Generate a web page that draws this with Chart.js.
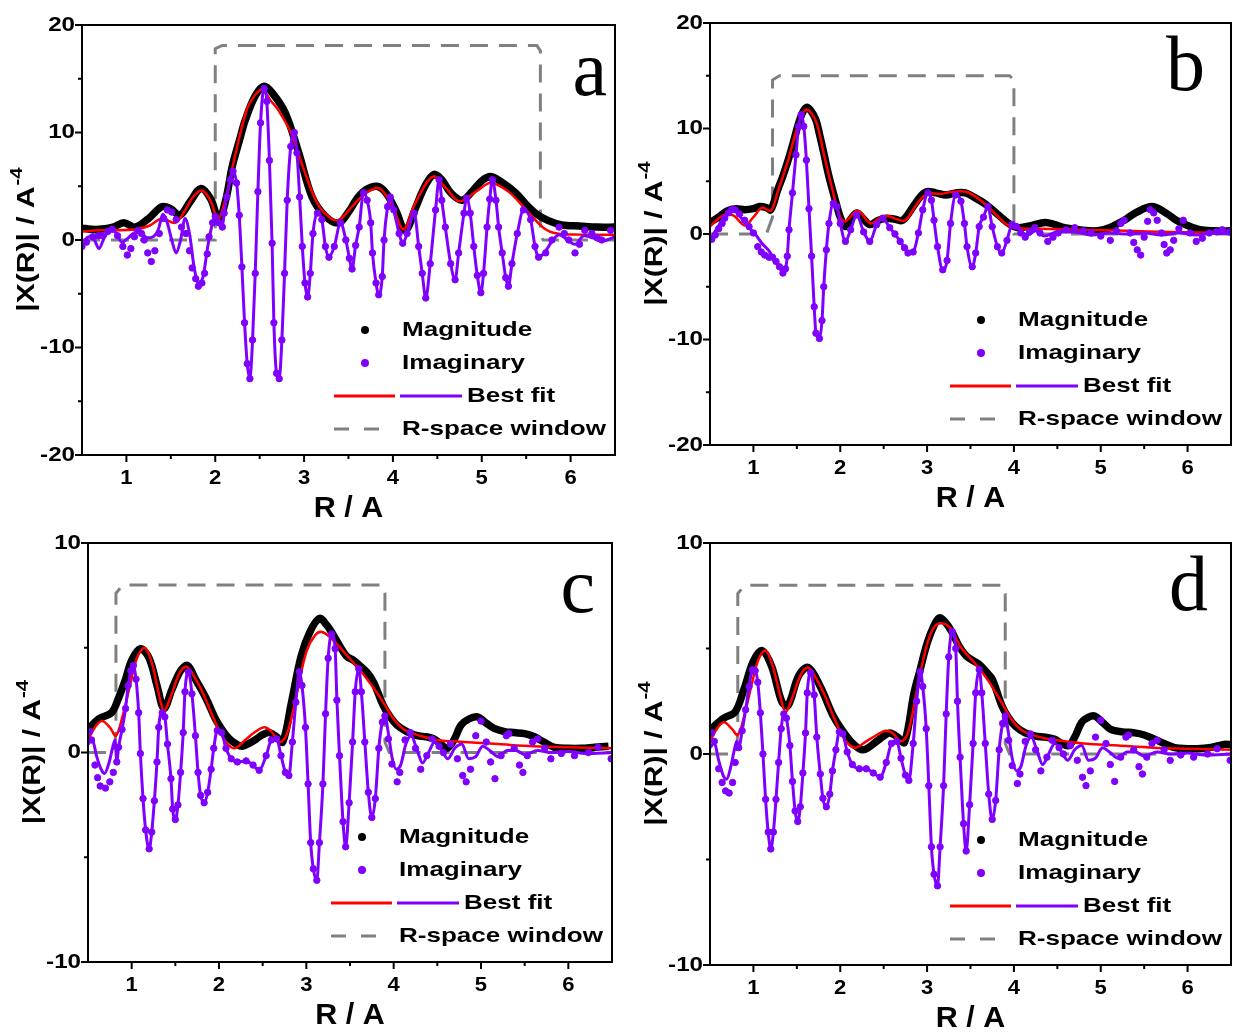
<!DOCTYPE html>
<html>
<head>
<meta charset="utf-8">
<script src="https://cdn.jsdelivr.net/npm/chart.js@4.4.1/dist/chart.umd.min.js"></script>
<style>
  body { margin: 0; background: #fff; width: 1233px; height: 1036px; position: relative; overflow: hidden; }
  canvas { position: absolute; }
</style>
</head>
<body>
<canvas id="ca" width="620" height="530" style="left:0;top:0"></canvas>
<canvas id="cb" width="613" height="530" style="left:620px;top:0"></canvas>
<canvas id="cc" width="620" height="506" style="left:0;top:530px"></canvas>
<canvas id="cd" width="613" height="506" style="left:620px;top:530px"></canvas>
<script>
// axis ticks and labels
const xMajor = [1, 2, 3, 4, 5, 6];
const xMinor = [1.5, 2.5, 3.5, 4.5, 5.5];
const yMajorWide = [-20, -10, 0, 10, 20];
const yMinorWide = [-15, -5, 5, 15];
const yMajorNarrow = [-10, 0, 10];
const yMinorNarrow = [-5, 5];
const legendLabels = ['Magnitude', 'Imaginary', 'Best fit', 'R-space window'];
const xTitle = 'R / A';
const yTitle = '|X(R)| / A';
const yTitleSup = '-4';

// panel a : [R, value]
const aMag = [[0.5,1.1],[0.6,1.0],[0.7,1.0],[0.85,1.2],[0.97,1.6],[1.1,1.2],[1.25,2.0],[1.4,3.1],[1.5,2.9],[1.6,2.3],[1.72,3.6],[1.84,4.8],[1.95,3.8],[2.04,1.9],[2.12,3.8],[2.19,6.8],[2.27,9.2],[2.34,11.2],[2.45,13.4],[2.55,14.3],[2.65,13.6],[2.79,11.8],[2.94,8.1],[3.09,4.0],[3.24,2.2],[3.39,1.6],[3.5,2.6],[3.6,3.9],[3.7,4.7],[3.82,5.0],[3.92,4.4],[4.03,2.8],[4.14,0.9],[4.26,3.1],[4.36,5.0],[4.46,6.1],[4.55,5.6],[4.65,4.4],[4.78,3.7],[4.9,4.6],[5.0,5.5],[5.1,5.9],[5.22,5.4],[5.38,4.4],[5.5,3.3],[5.62,2.4],[5.75,1.8],[5.9,1.4],[6.1,1.3],[6.3,1.2],[6.5,1.2]];
const aFitMag = [[0.5,0.8],[0.7,0.9],[0.9,0.9],[1.1,1.0],[1.25,1.3],[1.4,2.0],[1.55,1.6],[1.65,2.6],[1.75,4.0],[1.85,4.6],[1.95,3.6],[2.03,1.9],[2.12,4.0],[2.2,7.0],[2.35,12.0],[2.45,13.5],[2.53,14.0],[2.62,13.0],[2.7,12.2],[2.85,10.0],[3.0,6.5],[3.15,3.4],[3.3,2.0],[3.4,1.9],[3.55,3.2],[3.7,4.4],[3.85,4.8],[4.0,3.0],[4.12,1.0],[4.25,3.4],[4.45,5.9],[4.6,4.8],[4.75,3.6],[4.95,4.6],[5.1,5.3],[5.3,4.5],[5.5,2.8],[5.7,1.1],[5.85,0.6],[6.1,0.5],[6.5,0.5]];
const aImag = [[0.5,-0.6],[0.55,-0.2],[0.62,0.3],[0.68,0.4],[0.73,0.4],[0.79,0.8],[0.84,1.0],[0.9,0.4],[0.96,-0.6],[1.01,-1.4],[1.05,-0.8],[1.09,0.3],[1.13,0.9],[1.17,0.6],[1.2,0.0],[1.24,-1.2],[1.28,-2.0],[1.32,-1.0],[1.37,0.6],[1.42,2.0],[1.46,2.8],[1.51,2.6],[1.56,1.9],[1.62,1.2],[1.67,0.6],[1.71,-1.0],[1.74,-2.6],[1.78,-3.6],[1.81,-4.3],[1.85,-4.0],[1.88,-3.1],[1.91,-1.3],[1.93,0.3],[1.97,1.6],[2.0,2.2],[2.04,1.6],[2.08,1.2],[2.1,2.5],[2.13,4.0],[2.17,5.6],[2.2,6.4],[2.24,5.3],[2.27,2.3],[2.3,-2.5],[2.33,-7.7],[2.36,-11.5],[2.39,-12.9],[2.42,-9.3],[2.45,-3.1],[2.48,4.5],[2.51,10.9],[2.55,14.1],[2.58,12.9],[2.61,7.4],[2.64,-0.3],[2.66,-7.7],[2.69,-12.4],[2.72,-12.9],[2.75,-9.3],[2.78,-3.1],[2.81,3.7],[2.85,8.7],[2.89,10.0],[2.92,8.1],[2.95,4.0],[2.98,-0.6],[3.01,-4.0],[3.04,-5.3],[3.07,-3.1],[3.1,0.6],[3.15,2.5],[3.2,1.9],[3.24,-0.6],[3.28,-1.6],[3.34,-0.6],[3.41,1.6],[3.47,0.0],[3.51,-1.7],[3.54,-2.7],[3.58,-0.5],[3.62,1.2],[3.67,4.4],[3.71,3.7],[3.75,1.6],[3.77,-1.2],[3.81,-4.0],[3.84,-5.1],[3.88,-3.4],[3.9,0.0],[3.94,3.1],[3.97,4.0],[4.01,2.8],[4.07,0.6],[4.11,-0.3],[4.16,0.6],[4.24,2.5],[4.29,-0.6],[4.33,-3.1],[4.37,-5.4],[4.42,-2.2],[4.48,2.8],[4.52,5.6],[4.55,3.7],[4.59,1.2],[4.65,-2.2],[4.7,-3.7],[4.74,-1.2],[4.8,2.5],[4.83,3.9],[4.87,2.5],[4.91,-0.6],[4.95,-3.3],[4.99,-4.9],[5.02,-3.1],[5.06,1.2],[5.09,3.8],[5.12,5.6],[5.16,3.7],[5.19,1.2],[5.23,-1.2],[5.27,-3.5],[5.3,-4.3],[5.34,-2.2],[5.4,0.6],[5.47,2.8],[5.55,1.9],[5.6,-0.6],[5.64,-1.6],[5.72,-1.2],[5.79,0.0],[5.87,1.2],[5.93,0.6],[5.98,0.0],[6.05,-1.2],[6.1,-0.4],[6.16,0.9],[6.24,0.6],[6.3,0.2],[6.35,0.0],[6.45,0.9]];
const aFitImagOut = [[0.5,-0.3],[0.58,0.3],[0.64,0.0],[0.69,-0.8],[0.75,0.2],[0.82,0.9],[0.88,0.7],[0.95,-0.2],[1.02,0.2],[1.1,0.7],[1.17,0.6],[1.24,0.2],[1.3,0.3],[1.36,1.0],[1.41,2.4],[1.46,1.6],[1.51,0.0],[1.56,-1.2],[1.61,0.0],[1.66,2.0],[1.71,0.6],[1.76,-2.4],[1.81,-4.0],[1.86,-3.5],[1.92,-0.4],[1.97,1.6],[5.72,-1.0],[5.8,0.0],[5.87,0.5],[5.95,0.1],[6.05,-0.4],[6.15,0.4],[6.25,0.2],[6.35,-0.1],[6.5,0.3]];
const aWindow = [[0.5,0],[2.0,0],[2.0,17.8],[2.08,18.1],[5.62,18.1],[5.66,17.6],[5.66,0.5],[5.69,0],[6.5,0]];
const aFitRange = [2.0, 5.67];

// panel b
const bMag = [[0.5,1.1],[0.6,1.6],[0.7,2.2],[0.8,2.4],[0.9,2.3],[1.0,2.4],[1.07,2.6],[1.15,2.5],[1.2,2.3],[1.28,4.2],[1.34,5.5],[1.4,7.0],[1.46,8.7],[1.51,10.2],[1.56,11.4],[1.61,12.0],[1.66,11.7],[1.72,10.8],[1.76,9.5],[1.81,7.7],[1.86,5.8],[1.91,4.2],[1.96,2.7],[2.0,1.6],[2.06,0.7],[2.12,1.4],[2.19,2.0],[2.26,1.5],[2.34,0.9],[2.44,1.3],[2.53,1.5],[2.63,1.4],[2.72,1.3],[2.84,2.6],[2.92,3.5],[2.99,4.0],[3.1,3.9],[3.22,3.7],[3.33,3.9],[3.44,3.9],[3.56,3.4],[3.66,2.9],[3.75,2.3],[3.85,1.6],[3.94,1.0],[4.05,0.6],[4.2,0.8],[4.36,1.1],[4.47,0.9],[4.58,0.6],[4.75,0.4],[4.96,0.3],[5.1,0.6],[5.27,1.3],[5.4,2.0],[5.59,2.6],[5.75,2.0],[5.87,1.3],[6.0,0.8],[6.14,0.4],[6.3,0.3],[6.5,0.3]];
const bFitMag = [[0.5,0.7],[0.6,1.5],[0.7,1.9],[0.78,1.7],[0.9,0.8],[1.0,1.6],[1.1,2.5],[1.2,2.2],[1.28,4.0],[1.4,7.0],[1.51,10.2],[1.61,11.8],[1.72,10.7],[1.81,7.6],[1.91,4.2],[2.0,1.6],[2.06,1.2],[2.2,2.2],[2.35,1.0],[2.45,1.5],[2.55,1.7],[2.65,1.4],[2.75,1.3],[2.88,2.8],[3.0,3.8],[3.15,3.8],[3.3,4.0],[3.45,4.0],[3.6,3.3],[3.75,2.2],[3.9,1.0],[4.0,0.6],[4.3,0.5],[4.8,0.4],[5.3,0.3],[5.8,0.2],[6.5,0.1]];
const bImag = [[0.52,-0.5],[0.56,-0.1],[0.6,0.5],[0.64,1.0],[0.67,1.5],[0.71,2.0],[0.75,2.3],[0.79,2.3],[0.84,1.9],[0.9,1.3],[0.95,0.7],[1.0,0.1],[1.05,-1.2],[1.09,-1.7],[1.13,-2.0],[1.18,-2.2],[1.22,-2.2],[1.26,-2.6],[1.3,-3.1],[1.34,-3.7],[1.37,-3.3],[1.39,-2.1],[1.41,0.4],[1.45,3.9],[1.49,7.5],[1.52,10.2],[1.55,11.3],[1.58,10.2],[1.61,7.0],[1.64,2.4],[1.67,-2.1],[1.7,-6.9],[1.72,-9.4],[1.76,-9.9],[1.79,-8.2],[1.81,-5.0],[1.84,-1.5],[1.87,1.0],[1.92,2.9],[1.96,2.6],[2.0,1.0],[2.06,-0.7],[2.12,0.4],[2.19,1.8],[2.27,0.2],[2.34,-0.7],[2.42,0.9],[2.49,1.5],[2.57,0.6],[2.63,0.0],[2.69,-0.7],[2.74,-1.3],[2.78,-1.8],[2.84,-1.7],[2.9,0.1],[2.95,2.3],[3.01,3.9],[3.05,3.2],[3.08,1.3],[3.12,-1.2],[3.18,-3.4],[3.23,-2.5],[3.27,1.0],[3.33,3.7],[3.39,3.1],[3.43,1.0],[3.46,-1.2],[3.52,-3.1],[3.56,-1.8],[3.6,0.7],[3.65,1.6],[3.7,2.6],[3.75,0.7],[3.81,-1.2],[3.86,-1.8],[3.92,-0.6],[3.98,0.9],[4.03,0.7],[4.08,0.1],[4.13,-0.3],[4.18,0.2],[4.24,0.6],[4.3,0.1],[4.39,-0.7],[4.45,-0.3],[4.51,0.1],[4.6,0.4],[4.7,0.6],[4.8,0.3],[4.89,0.1],[5.0,-0.2],[5.11,-0.6],[5.18,0.3],[5.23,1.0],[5.27,1.3],[5.34,0.1],[5.38,-0.8],[5.42,-1.5],[5.46,-2.0],[5.5,-0.3],[5.54,1.2],[5.57,2.3],[5.61,2.0],[5.65,1.3],[5.7,0.1],[5.73,-1.0],[5.76,-1.8],[5.8,-1.5],[5.84,-0.6],[5.9,0.5],[5.95,1.3],[6.03,0.1],[6.1,-0.7],[6.17,-0.4],[6.25,0.1],[6.33,0.2],[6.4,0.4],[6.48,0.2]];
const bFitImagOut = [[0.52,-0.3],[0.6,0.8],[0.7,1.8],[0.78,2.2],[0.87,1.4],[0.95,0.6],[1.02,0.0],[1.1,-0.9],[1.18,-1.6],[4.05,0.5],[4.15,-0.1],[4.25,0.3],[4.35,-0.2],[4.5,0.2],[4.7,0.2],[4.9,-0.1],[5.1,0.1],[5.3,0.0],[5.5,0.1],[5.7,-0.1],[5.9,0.1],[6.1,-0.1],[6.3,0.1],[6.5,0.0]];
const bWindow = [[0.5,0],[1.15,0],[1.22,1.6],[1.22,14.6],[1.3,15.0],[3.95,15.0],[4.0,14.6],[4.0,0],[6.5,0]];
const bFitRange = [1.22, 4.0];

// panel c
const cMag = [[0.5,1.1],[0.62,1.6],[0.77,1.9],[0.85,2.6],[0.93,3.5],[1.0,4.4],[1.1,4.95],[1.2,4.5],[1.29,3.2],[1.37,2.1],[1.46,3.0],[1.56,3.9],[1.64,4.15],[1.73,3.5],[1.85,2.6],[1.96,1.6],[2.05,1.0],[2.12,0.65],[2.2,0.4],[2.27,0.3],[2.35,0.45],[2.43,0.65],[2.5,0.85],[2.58,0.95],[2.66,0.75],[2.73,0.5],[2.83,2.4],[2.94,4.6],[3.04,5.75],[3.15,6.4],[3.23,6.1],[3.31,5.6],[3.38,5.1],[3.46,4.6],[3.54,4.4],[3.61,4.15],[3.7,3.8],[3.77,3.35],[3.88,2.25],[3.96,1.7],[4.04,1.3],[4.15,1.0],[4.27,0.8],[4.37,0.75],[4.46,0.65],[4.54,0.4],[4.61,0.2],[4.69,0.6],[4.77,1.3],[4.86,1.6],[4.96,1.7],[5.06,1.4],[5.15,1.15],[5.27,1.0],[5.38,0.95],[5.5,0.9],[5.61,0.75],[5.72,0.5],[5.84,0.25],[6.0,0.2],[6.15,0.2],[6.3,0.25],[6.46,0.3]];
const cFitMag = [[0.5,0.6],[0.58,1.2],[0.66,1.5],[0.75,1.2],[0.82,0.8],[0.9,1.8],[0.98,3.2],[1.06,4.5],[1.15,5.0],[1.23,4.3],[1.3,3.0],[1.37,2.0],[1.45,2.7],[1.55,3.8],[1.63,4.1],[1.72,3.6],[1.82,2.8],[1.92,1.8],[2.02,0.9],[2.1,0.4],[2.18,0.2],[2.3,0.6],[2.42,1.0],[2.52,1.2],[2.6,1.0],[2.7,0.5],[2.78,0.9],[2.9,3.0],[3.0,4.8],[3.1,5.6],[3.18,5.75],[3.3,5.4],[3.45,4.7],[3.6,4.0],[3.75,3.2],[3.88,2.4],[4.0,1.6],[4.12,1.1],[4.3,0.8],[4.5,0.6],[4.8,0.5],[5.2,0.4],[5.6,0.3],[6.0,0.25],[6.5,0.2]];
const cImag = [[0.52,1.0],[0.54,0.6],[0.58,-0.6],[0.61,-1.2],[0.64,-1.6],[0.7,-1.7],[0.75,-1.4],[0.79,-0.95],[0.83,-0.45],[0.85,0.25],[0.89,1.1],[0.93,2.1],[0.96,3.2],[0.99,3.9],[1.02,4.15],[1.05,3.5],[1.08,1.9],[1.1,-0.05],[1.13,-2.2],[1.16,-3.7],[1.2,-4.6],[1.23,-3.8],[1.26,-2.3],[1.29,-0.45],[1.31,1.2],[1.35,1.9],[1.38,1.7],[1.41,0.4],[1.45,-1.25],[1.47,-2.7],[1.5,-3.2],[1.53,-2.5],[1.56,-0.95],[1.59,0.95],[1.61,2.9],[1.65,3.85],[1.69,2.8],[1.73,0.8],[1.76,-0.95],[1.79,-2.05],[1.83,-2.4],[1.87,-1.9],[1.91,-0.8],[1.94,0.2],[1.98,1.05],[2.03,0.95],[2.08,0.2],[2.14,-0.3],[2.21,-0.45],[2.31,-0.4],[2.39,-0.6],[2.46,-0.85],[2.54,-0.15],[2.6,0.6],[2.66,0.65],[2.71,-0.15],[2.76,-0.95],[2.8,-1.1],[2.84,0.5],[2.88,2.4],[2.92,3.85],[2.95,3.2],[2.99,1.2],[3.02,-1.5],[3.05,-4.3],[3.08,-5.55],[3.12,-6.1],[3.15,-4.3],[3.19,-1.5],[3.22,1.85],[3.25,4.5],[3.29,5.65],[3.33,4.95],[3.35,2.5],[3.38,-0.15],[3.42,-3.3],[3.45,-4.5],[3.49,-2.4],[3.53,0.5],[3.56,2.9],[3.6,4.0],[3.63,2.9],[3.67,0.5],[3.71,-1.9],[3.75,-3.1],[3.79,-2.2],[3.83,0.2],[3.87,1.45],[3.9,1.75],[3.94,0.65],[3.98,-0.55],[4.04,-1.4],[4.07,-0.95],[4.13,0.6],[4.19,0.95],[4.25,0.2],[4.31,-0.8],[4.38,-0.15],[4.44,0.65],[4.52,0.3],[4.57,0.0],[4.65,0.4],[4.73,-0.3],[4.79,-1.1],[4.83,-1.4],[4.88,-0.8],[4.94,0.8],[5.0,1.5],[5.06,0.5],[5.11,-0.45],[5.16,-1.25],[5.23,-0.15],[5.29,0.8],[5.32,0.9],[5.38,0.2],[5.44,-0.6],[5.48,-0.95],[5.53,-0.15],[5.59,0.5],[5.65,0.65],[5.73,0.2],[5.8,-0.3],[5.92,-0.05],[6.07,-0.15],[6.23,0.0],[6.34,0.25],[6.49,-0.3]];
const cFitImagOut = [[0.5,0.4],[0.55,0.6],[0.6,-0.2],[0.65,-0.8],[0.69,-1.0],[0.74,-0.5],[0.78,0.2],[0.81,0.6],[3.94,0.9],[3.98,-0.2],[4.03,-0.8],[4.08,-0.6],[4.14,0.4],[4.2,0.8],[4.27,0.1],[4.33,-0.5],[4.4,0.0],[4.47,0.5],[4.55,0.1],[4.62,-0.3],[4.7,0.2],[4.78,0.4],[4.86,-0.3],[4.94,-0.2],[5.02,0.3],[5.1,0.1],[5.2,-0.2],[5.3,0.1],[5.4,0.1],[5.5,-0.1],[5.65,0.1],[5.8,0.0],[6.0,0.05],[6.2,-0.05],[6.5,0.0]];
const cWindow = [[0.5,0],[0.8,0],[0.82,1.0],[0.82,7.6],[0.9,8.0],[3.87,8.0],[3.9,7.6],[3.9,0.5],[3.95,0],[6.5,0]];
const cFitRange = [0.82, 3.9];

// panel d
const dMag = [[0.5,1.1],[0.53,1.25],[0.66,1.7],[0.79,2.0],[0.89,3.05],[1.0,4.4],[1.1,4.9],[1.21,4.15],[1.33,2.45],[1.4,2.3],[1.52,3.7],[1.63,4.1],[1.77,3.2],[1.92,1.8],[2.07,0.85],[2.17,0.4],[2.26,0.2],[2.34,0.35],[2.42,0.6],[2.5,0.85],[2.57,1.0],[2.66,0.8],[2.74,0.55],[2.85,2.9],[2.92,4.0],[2.99,5.1],[3.06,5.9],[3.14,6.45],[3.22,6.2],[3.29,5.75],[3.37,5.1],[3.45,4.65],[3.52,4.45],[3.6,4.25],[3.68,3.9],[3.75,3.55],[3.86,2.3],[3.94,1.7],[4.02,1.3],[4.13,1.0],[4.25,0.85],[4.36,0.8],[4.47,0.7],[4.55,0.5],[4.63,0.4],[4.7,0.8],[4.78,1.5],[4.86,1.75],[4.93,1.8],[5.02,1.5],[5.12,1.15],[5.25,1.05],[5.39,1.0],[5.5,0.9],[5.62,0.7],[5.73,0.5],[5.85,0.3],[6.0,0.25],[6.11,0.25],[6.25,0.3],[6.42,0.45],[6.5,0.45]];
const dFitMag = [[0.5,0.6],[0.58,1.2],[0.66,1.5],[0.75,1.2],[0.82,0.9],[0.9,1.9],[0.98,3.3],[1.06,4.5],[1.14,4.9],[1.22,4.2],[1.3,2.9],[1.37,2.0],[1.45,2.7],[1.55,3.8],[1.63,4.1],[1.72,3.6],[1.82,2.8],[1.92,1.8],[2.02,0.9],[2.1,0.45],[2.18,0.3],[2.3,0.6],[2.42,0.9],[2.52,1.1],[2.6,1.0],[2.7,0.6],[2.78,1.0],[2.9,3.4],[3.0,5.2],[3.08,6.0],[3.16,6.2],[3.26,6.0],[3.4,5.0],[3.55,4.3],[3.7,3.5],[3.85,2.5],[3.98,1.6],[4.1,1.1],[4.3,0.8],[4.5,0.65],[4.8,0.5],[5.2,0.4],[5.6,0.3],[6.0,0.25],[6.5,0.2]];
const dImag = [[0.52,1.0],[0.55,0.6],[0.6,-0.7],[0.64,-1.35],[0.68,-1.75],[0.72,-1.85],[0.76,-1.35],[0.79,-0.4],[0.83,0.3],[0.87,1.1],[0.91,2.1],[0.95,3.2],[0.99,4.0],[1.02,3.95],[1.05,3.4],[1.08,1.95],[1.11,0.0],[1.14,-2.15],[1.17,-3.7],[1.2,-4.5],[1.23,-3.7],[1.26,-2.15],[1.29,-0.4],[1.32,1.2],[1.35,1.9],[1.38,1.7],[1.42,0.4],[1.45,-1.3],[1.48,-2.7],[1.51,-3.2],[1.54,-2.5],[1.57,-0.9],[1.6,1.0],[1.62,2.9],[1.66,3.85],[1.7,2.8],[1.73,0.8],[1.77,-0.95],[1.8,-2.1],[1.84,-2.5],[1.88,-1.9],[1.91,-0.8],[1.95,0.2],[1.99,1.05],[2.03,0.95],[2.08,0.1],[2.14,-0.5],[2.22,-0.7],[2.3,-0.7],[2.38,-0.9],[2.46,-1.1],[2.53,-0.4],[2.59,0.5],[2.65,0.6],[2.7,-0.2],[2.75,-1.0],[2.79,-1.25],[2.84,0.5],[2.88,2.5],[2.92,3.9],[2.95,3.2],[2.99,1.2],[3.02,-1.5],[3.05,-4.4],[3.08,-5.7],[3.12,-6.25],[3.15,-4.4],[3.19,-1.5],[3.22,1.9],[3.25,4.6],[3.29,5.8],[3.33,5.0],[3.35,2.5],[3.38,-0.15],[3.42,-3.3],[3.45,-4.6],[3.49,-2.4],[3.53,0.5],[3.56,2.9],[3.6,4.0],[3.63,2.9],[3.67,0.5],[3.71,-1.9],[3.75,-3.1],[3.79,-2.2],[3.83,0.2],[3.87,1.45],[3.9,1.8],[3.94,0.65],[3.98,-0.55],[4.04,-1.4],[4.07,-0.95],[4.13,0.6],[4.19,0.95],[4.25,0.2],[4.31,-0.8],[4.38,-0.15],[4.44,0.65],[4.52,0.3],[4.57,0.0],[4.65,0.4],[4.73,-0.3],[4.79,-1.1],[4.83,-1.5],[4.88,-0.8],[4.94,0.8],[5.0,1.6],[5.06,0.5],[5.11,-0.5],[5.16,-1.3],[5.23,-0.15],[5.29,0.8],[5.32,0.9],[5.38,0.2],[5.44,-0.6],[5.48,-0.95],[5.53,-0.15],[5.59,0.5],[5.65,0.65],[5.73,0.2],[5.8,-0.3],[5.92,-0.05],[6.07,-0.15],[6.23,0.0],[6.34,0.25],[6.49,-0.3]];
const dFitImagOut = [[0.5,0.3],[0.55,0.5],[0.6,-0.3],[0.65,-1.0],[0.69,-1.2],[0.74,-0.6],[0.78,0.2],[0.81,0.6],[3.94,0.9],[3.98,-0.2],[4.03,-0.8],[4.08,-0.6],[4.14,0.4],[4.2,0.8],[4.27,0.1],[4.33,-0.5],[4.4,0.0],[4.47,0.5],[4.55,0.1],[4.62,-0.3],[4.7,0.2],[4.78,0.4],[4.86,-0.3],[4.94,-0.2],[5.02,0.3],[5.1,0.1],[5.2,-0.2],[5.3,0.1],[5.4,0.1],[5.5,-0.1],[5.65,0.1],[5.8,0.0],[6.0,0.05],[6.2,-0.05],[6.5,0.0]];
const dWindow = [[0.5,0],[0.8,0],[0.82,1.0],[0.82,7.6],[0.9,8.0],[3.87,8.0],[3.9,7.6],[3.9,0.5],[3.95,0],[6.5,0]];
const dFitRange = [0.82, 3.9];

const PURPLE = '#7f00ff';
const RED = '#ff0000';
const GRAY = '#808080';
const SANS = '"Liberation Sans", Arial, sans-serif';

const toXY = pts => pts.map(([x, y]) => ({ x, y }));

// the fitted imaginary part runs through the data inside the fit window
function fitImag(imag, out, range) {
    const inside = imag.filter(([r]) => r >= range[0] && r <= range[1]);
    return inside.concat(out).sort((p, q) => p[0] - q[0]);
}

function wideText(ctx, text, x, y, sx, align) {
    ctx.save();
    ctx.translate(x, y);
    ctx.scale(sx, 1);
    ctx.textAlign = align;
    ctx.fillText(text, 0, 0);
    ctx.restore();
}

function framePlugin(p) {
    return {
        id: 'frame',
        afterDraw(chart) {
            const ctx = chart.ctx;
            const a = chart.chartArea;
            const xs = chart.scales.x, ys = chart.scales.y;
            ctx.save();
            ctx.strokeStyle = '#000';
            ctx.fillStyle = '#000';
            ctx.lineWidth = 2;
            ctx.strokeRect(a.left, a.top, a.right - a.left, a.bottom - a.top);

            // ticks
            ctx.beginPath();
            xMajor.forEach(v => { const x = xs.getPixelForValue(v); ctx.moveTo(x, a.bottom); ctx.lineTo(x, a.bottom + 7); });
            xMinor.forEach(v => { const x = xs.getPixelForValue(v); ctx.moveTo(x, a.bottom); ctx.lineTo(x, a.bottom + 4); });
            p.yMajor.forEach(v => { const y = ys.getPixelForValue(v); ctx.moveTo(a.left, y); ctx.lineTo(a.left - 7, y); });
            p.yMinor.forEach(v => { const y = ys.getPixelForValue(v); ctx.moveTo(a.left, y); ctx.lineTo(a.left - 4, y); });
            ctx.stroke();

            // tick labels
            ctx.font = 'bold 21px ' + SANS;
            ctx.textBaseline = 'middle';
            xMajor.forEach(v => wideText(ctx, String(v), xs.getPixelForValue(v), a.bottom + 23, 1.05, 'center'));
            p.yMajor.forEach(v => wideText(ctx, String(v), a.left - 7, ys.getPixelForValue(v), 1.15, 'right'));

            // axis titles
            ctx.font = 'bold 29px ' + SANS;
            wideText(ctx, xTitle, (a.left + a.right) / 2, a.bottom + 54, 1.05, 'center');

            ctx.save();
            ctx.translate(a.left - 55, (a.top + a.bottom) / 2);
            ctx.rotate(-Math.PI / 2);
            ctx.font = 'bold 24px ' + SANS;
            const w1 = ctx.measureText(yTitle).width * 1.25;
            ctx.font = 'bold 17px ' + SANS;
            const w2 = ctx.measureText(yTitleSup).width * 1.2;
            const x0 = -(w1 + w2) / 2;
            ctx.font = 'bold 24px ' + SANS;
            wideText(ctx, yTitle, x0, 0, 1.25, 'left');
            ctx.font = 'bold 17px ' + SANS;
            wideText(ctx, yTitleSup, x0 + w1 + 1, -10, 1.2, 'left');
            ctx.restore();

            // legend
            const r = a.right, b = a.bottom;
            const rows = [b - 125, b - 92, b - 59, b - 26];
            ctx.fillStyle = '#000';
            ctx.beginPath(); ctx.arc(r - 250, rows[0], 4, 0, Math.PI * 2); ctx.fill();
            ctx.fillStyle = PURPLE;
            ctx.beginPath(); ctx.arc(r - 250, rows[1], 4, 0, Math.PI * 2); ctx.fill();
            ctx.lineWidth = 3;
            ctx.strokeStyle = RED;
            ctx.beginPath(); ctx.moveTo(r - 281, rows[2]); ctx.lineTo(r - 220, rows[2]); ctx.stroke();
            ctx.strokeStyle = PURPLE;
            ctx.beginPath(); ctx.moveTo(r - 215, rows[2]); ctx.lineTo(r - 153, rows[2]); ctx.stroke();
            ctx.strokeStyle = GRAY;
            ctx.setLineDash([15, 15]);
            ctx.beginPath(); ctx.moveTo(r - 281, rows[3]); ctx.lineTo(r - 236, rows[3]); ctx.stroke();
            ctx.setLineDash([]);
            ctx.fillStyle = '#000';
            ctx.font = 'bold 21px ' + SANS;
            wideText(ctx, legendLabels[0], r - 213, rows[0], 1.24, 'left');
            wideText(ctx, legendLabels[1], r - 213, rows[1], 1.24, 'left');
            wideText(ctx, legendLabels[2], r - 148, rows[2], 1.24, 'left');
            wideText(ctx, legendLabels[3], r - 213, rows[3], 1.24, 'left');

            // panel letter
            ctx.font = '78px "Liberation Serif", "Times New Roman", serif';
            ctx.textAlign = 'right';
            ctx.textBaseline = 'alphabetic';
            ctx.fillText(p.letter, p.letterPos[0], p.letterPos[1]);
            ctx.restore();
        }
    };
}

function drawPanel(p) {
    const canvas = document.getElementById(p.id);
    const W = canvas.width, H = canvas.height;
    new Chart(canvas, {
        type: 'scatter',
        data: {
            datasets: [
                { data: toXY(p.win), showLine: true, borderColor: GRAY, borderWidth: 3, borderDash: [18, 11], pointRadius: 0, tension: 0, order: 5 },
                { data: toXY(p.mag), showLine: true, borderColor: '#000', backgroundColor: '#000', borderWidth: 7.5, pointRadius: 0, tension: 0.35, order: 4 },
                { data: toXY(p.fitMag), showLine: true, borderColor: RED, borderWidth: 2.5, pointRadius: 0, tension: 0.35, order: 3 },
                { data: toXY(p.imag), showLine: false, backgroundColor: PURPLE, borderColor: PURPLE, pointRadius: 3.2, pointBorderWidth: 1, order: 2 },
                { data: toXY(fitImag(p.imag, p.fitOut, p.range)), showLine: true, borderColor: PURPLE, borderWidth: 3, pointRadius: 0, cubicInterpolationMode: 'monotone', order: 1 }
            ]
        },
        options: {
            responsive: false,
            animation: false,
            layout: { autoPadding: false, padding: { left: 0, top: p.box.top, right: W - p.box.right, bottom: 0 } },
            plugins: { legend: { display: false }, tooltip: { enabled: false } },
            scales: {
                x: {
                    type: 'linear', min: 0.5, max: 6.5,
                    grid: { display: false }, border: { display: false }, ticks: { display: false },
                    afterFit(s) { s.height = H - p.box.bottom; }
                },
                y: {
                    type: 'linear', min: p.yMin, max: p.yMax,
                    grid: { display: false }, border: { display: false }, ticks: { display: false },
                    afterFit(s) { s.width = p.box.left; }
                }
            }
        },
        plugins: [framePlugin(p)]
    });
}

const panels = [
    { id: 'ca', mag: aMag, fitMag: aFitMag, imag: aImag, fitOut: aFitImagOut, win: aWindow, range: aFitRange,
      yMin: -20, yMax: 20, yMajor: yMajorWide, yMinor: yMinorWide,
      box: { left: 82, top: 25, right: 615, bottom: 455 }, letter: 'a', letterPos: [607, 95] },
    { id: 'cb', mag: bMag, fitMag: bFitMag, imag: bImag, fitOut: bFitImagOut, win: bWindow, range: bFitRange,
      yMin: -20, yMax: 20, yMajor: yMajorWide, yMinor: yMinorWide,
      box: { left: 90, top: 23, right: 611, bottom: 445 }, letter: 'b', letterPos: [585, 90] },
    { id: 'cc', mag: cMag, fitMag: cFitMag, imag: cImag, fitOut: cFitImagOut, win: cWindow, range: cFitRange,
      yMin: -10, yMax: 10, yMajor: yMajorNarrow, yMinor: yMinorNarrow,
      box: { left: 88, top: 13, right: 612, bottom: 432 }, letter: 'c', letterPos: [595, 82] },
    { id: 'cd', mag: dMag, fitMag: dFitMag, imag: dImag, fitOut: dFitImagOut, win: dWindow, range: dFitRange,
      yMin: -10, yMax: 10, yMajor: yMajorNarrow, yMinor: yMinorNarrow,
      box: { left: 90, top: 13, right: 611, bottom: 435 }, letter: 'd', letterPos: [588, 80] }
];

panels.forEach(drawPanel);
</script>
</body>
</html>
